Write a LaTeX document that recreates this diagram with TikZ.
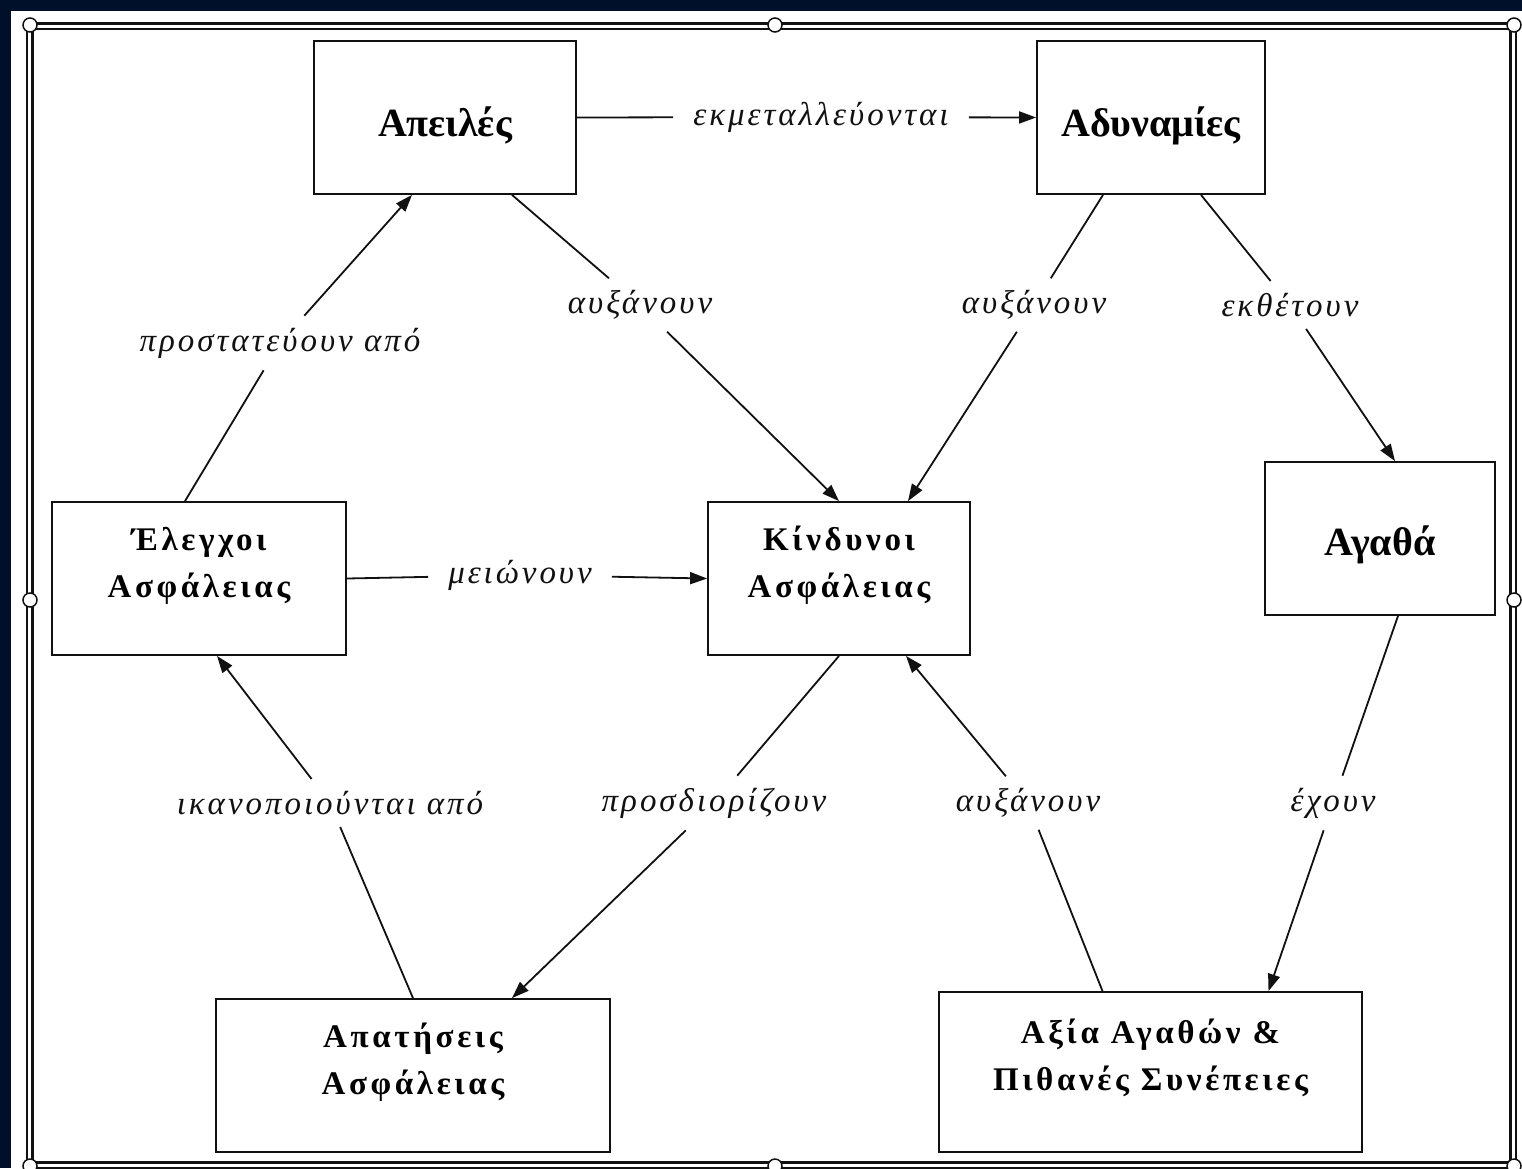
\documentclass[tikz,border=0pt]{standalone}
\usepackage{fontspec}
\setmainfont{Liberation Serif}
\usetikzlibrary{arrows.meta,positioning,calc}
\definecolor{grNavy}{HTML}{00102A}
\definecolor{grInk}{HTML}{111111}
\tikzset{
  grbox/.style={
    draw=grInk, line width=1.8pt, align=center, inner sep=0pt,
    minimum height=153pt, text height=38pt, text depth=0pt,
    font=\fontsize{40}{47}\selectfont\bfseries
  },
  grboxtwo/.style={
    grbox, text height=75pt, text depth=38pt,
    font=\fontsize{33}{47}\selectfont\bfseries\addfontfeature{LetterSpace=11}
  },
  grlabel/.style={
    font=\fontsize{33}{40}\selectfont\itshape\addfontfeature{LetterSpace=9},
    text=grInk, inner xsep=20pt, inner ysep=12pt
  },
  grline/.style={line width=1.8pt, grInk},
  grflow/.style={grline, -{Triangle[length=17pt,width=12pt]}},
  grframe/.style={draw=grInk, double=white, line width=2.5pt, double distance=3pt},
  grhandle/.style={draw=grInk, fill=white, line width=1.5pt}
}
\begin{document}
\begin{tikzpicture}[x=1pt, y=-1pt]
  \useasboundingbox (0,0) rectangle (1522,1168);
  \fill[grNavy] (0,0) rectangle (1522,1168);
  \fill[white] (11,11) rectangle (1522,1168);
  \draw[grframe] (29.5,26) rectangle (1513,1165);
  \foreach \hx/\hy in {30/25, 775/25, 1514/25, 30/600, 1514/600, 30/1166, 775/1166, 1514/1166}{
    \filldraw[grhandle] (\hx,\hy) circle (7pt);
  }

  % boxes
  \node[grbox, minimum width=262pt] (threats) at (445,117.5) {Απειλές};
  \node[grbox, minimum width=228pt] (weak) at (1151,117.5) {Αδυναμίες};
  \node[grboxtwo, minimum width=294pt] (controls) at (199,578.5) {Έλεγχοι\\Ασφάλειας};
  \node[grboxtwo, minimum width=262pt] (risks) at (839,578.5) {Κίνδυνοι\\Ασφάλειας};
  \node[grbox, minimum width=230pt, text height=34pt] (assets) at (1380,538.5) {Αγαθά};
  \node[grboxtwo, minimum width=394pt] (req) at (413,1075.5) {Απατήσεις\\Ασφάλειας};
  \node[grboxtwo, minimum width=423pt, minimum height=160pt] (value) at (1150.5,1072) {Αξία Αγαθών \&\\Πιθανές Συνέπειες};

  % edge labels
  \node[grlabel] (exploit) at (821,117) {εκμεταλλεύονται};
  \node[grlabel] (incA) at (640,305) {αυξάνουν};
  \node[grlabel] (incB) at (1034,305) {αυξάνουν};
  \node[grlabel] (expose) at (1290,305) {εκθέτουν};
  \node[grlabel] (protect) at (280,343) {προστατεύουν από};
  \node[grlabel] (reduce) at (520,575) {μειώνουν};
  \node[grlabel] (satisfy) at (330,803) {ικανοποιούνται από};
  \node[grlabel] (determine) at (714,803) {προσδιορίζουν};
  \node[grlabel] (incC) at (1028,803) {αυξάνουν};
  \node[grlabel] (have) at (1333,803) {έχουν};

  % connectors
  \draw[grline] (threats.east) -- (exploit);
  \draw[grflow] (exploit) -- (weak.west);
  \draw[grline] ([xshift=67pt]threats.south) -- (incA);
  \draw[grflow] (incA) -- (risks.north);
  \draw[grline] ([xshift=-48pt]weak.south) -- (incB);
  \draw[grflow] (incB) -- ([xshift=69pt]risks.north);
  \draw[grline] ([xshift=50pt]weak.south) -- (expose);
  \draw[grflow] (expose) -- ([xshift=15pt]assets.north);
  \draw[grline] ([xshift=-14pt]controls.north) -- (protect);
  \draw[grflow] (protect) -- ([xshift=-33pt]threats.south);
  \draw[grline] (controls.east) -- (reduce);
  \draw[grflow] (reduce) -- (risks.west);
  \draw[grline] (req.north) -- (satisfy);
  \draw[grflow] (satisfy) -- ([xshift=18pt]controls.south);
  \draw[grline] (risks.south) -- (determine);
  \draw[grflow] (determine) -- ([xshift=99pt]req.north);
  \draw[grline] ([xshift=-48pt]value.north) -- (incC);
  \draw[grflow] (incC) -- ([xshift=67pt]risks.south);
  \draw[grline] ([xshift=18pt]assets.south) -- (have);
  \draw[grflow] (have) -- ([xshift=118pt]value.north);
\end{tikzpicture}
\end{document}
